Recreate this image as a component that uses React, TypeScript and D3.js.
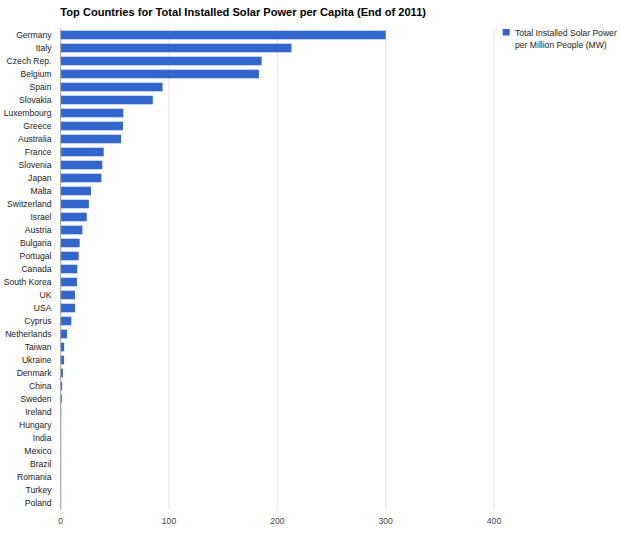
import React from 'react';
import * as d3 from 'd3';

// Total installed solar power per million people (MW), end of 2011
const countries = [
  'Germany', 'Italy', 'Czech Rep.', 'Belgium', 'Spain', 'Slovakia', 'Luxembourg',
  'Greece', 'Australia', 'France', 'Slovenia', 'Japan', 'Malta', 'Switzerland',
  'Israel', 'Austria', 'Bulgaria', 'Portugal', 'Canada', 'South Korea', 'UK', 'USA',
  'Cyprus', 'Netherlands', 'Taiwan', 'Ukraine', 'Denmark', 'China', 'Sweden',
  'Ireland', 'Hungary', 'India', 'Mexico', 'Brazil', 'Romania', 'Turkey', 'Poland',
];
const values = [
  300, 213, 185.5, 183, 94, 85, 57.8,
  57.5, 55.7, 39.7, 38.4, 37.5, 28, 26,
  24, 20, 17.5, 16.6, 15.3, 15, 13.2, 13.2,
  9.8, 5.8, 3.2, 3.1, 2, 1.3, 1,
  0.4, 0.2, 0.15, 0.12, 0.1, 0.08, 0.05, 0.03,
];
const xTicks = [0, 100, 200, 300, 400];
const title = 'Top Countries for Total Installed Solar Power per Capita (End of 2011)';
const legendLines = ['Total Installed Solar Power', 'per Million People (MW)'];

const W = 620;
const H = 542;
const left = 60.7;
const right = 494;
const top = 28.5;
const bottom = 509.5;
const barColor = '#3366cc';
const font = '"Liberation Sans", Arial, sans-serif';
const fs = 8.6;

export default function App() {
  const data = countries.map((c, i) => ({ country: c, value: values[i] }));

  const x = d3.scaleLinear().domain([0, 400]).range([left, right]);
  const y = d3.scaleBand<string>()
    .domain(countries)
    .range([top, bottom])
    .paddingInner(0.34)
    .paddingOuter(0.17);

  return (
    <svg width={W} height={H} style={{ position: 'absolute', left: 0, top: 0, background: '#fff' }}
      fontFamily={font}>
      <text x={60.3} y={15.5} fontSize={11.1} fontWeight="bold" fill="#000">{title}</text>

      {/* gridlines */}
      {xTicks.slice(1).map((t) => (
        <line key={t} x1={x(t)} x2={x(t)} y1={top} y2={bottom} stroke="#e3e3e3" strokeWidth={1} />
      ))}

      {/* bars */}
      {data.map((d) => (
        <rect key={d.country} x={x(0)} y={y(d.country)} width={x(d.value) - x(0)}
          height={y.bandwidth()} fill={barColor} />
      ))}

      {/* zero axis */}
      <line x1={x(0)} x2={x(0)} y1={top} y2={bottom} stroke="#999" strokeWidth={1} />

      {/* category labels */}
      {data.map((d) => (
        <text key={d.country} x={51.5} y={(y(d.country) as number) + y.bandwidth() / 2}
          dy="0.35em" textAnchor="end" fontSize={fs} fill="#222">{d.country}</text>
      ))}

      {/* x tick labels */}
      {xTicks.map((t) => (
        <text key={t} x={x(t)} y={524} textAnchor="middle" fontSize={fs} fill="#444">{t}</text>
      ))}

      {/* legend */}
      <rect x={502.7} y={29} width={7} height={6.5} fill={barColor} />
      {legendLines.map((l, i) => (
        <text key={l} x={515} y={36 + i * 11.7} fontSize={fs} fill="#222">{l}</text>
      ))}
    </svg>
  );
}
